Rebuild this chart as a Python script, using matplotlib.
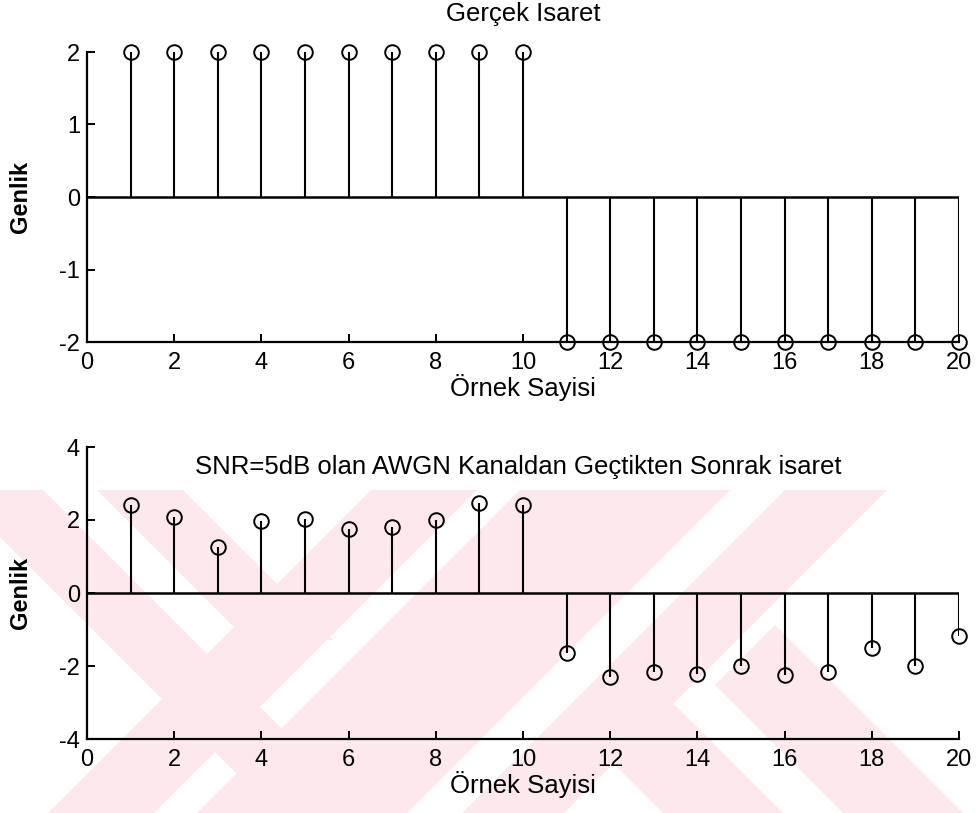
import numpy as np
import matplotlib
matplotlib.use('Agg')
import matplotlib.pyplot as plt
from matplotlib.patches import Polygon, Rectangle

# data
n = np.arange(1, 21)
gercek = [2] * 10 + [-2] * 10
gurultulu = [2.41, 2.07, 1.25, 1.98, 2.03, 1.75, 1.80, 2.00, 2.47, 2.41,
             -1.65, -2.29, -2.17, -2.22, -2.00, -2.25, -2.17, -1.52, -2.00, -1.17]
xticks = list(range(0, 21, 2))
yticks_top = [-2, -1, 0, 1, 2]
yticks_bot = [-4, -2, 0, 2, 4]

plt.rcParams['font.family'] = ['Liberation Sans', 'DejaVu Sans']
plt.rcParams['axes.unicode_minus'] = False

W, H = 976, 813
fig = plt.figure(figsize=(W / 100, H / 100), dpi=100)
fig.patch.set_facecolor('white')

# background watermark (page pixel coordinates)
bg = fig.add_axes([0, 0, 1, 1], zorder=0)
bg.set_xlim(0, W)
bg.set_ylim(H, 0)
bg.axis('off')
pink = '#fde8ed'
clip = Rectangle((0, 490), W, H - 490, transform=bg.transData, visible=False)
bg.add_patch(clip)


def back_stripe(c1, c2, ya, yb):
    # "\" stripe, x - y in [c1, c2]
    return [(c1 + ya, ya), (c2 + ya, ya), (c2 + yb, yb), (c1 + yb, yb)]


def fwd_stripe(s1, s2, ya, yb):
    # "/" stripe, x + y in [s1, s2]
    return [(s1 - ya, ya), (s2 - ya, ya), (s2 - yb, yb), (s1 - yb, yb)]


def back_from(c1, c2, s0, yb):
    # "\" stripe starting at the "/" line x + y = s0
    return [((s0 + c1) / 2, (s0 - c1) / 2), ((s0 + c2) / 2, (s0 - c2) / 2),
            (c2 + yb, yb), (c1 + yb, yb)]


stripes = [
    back_stripe(-537, -447, 490, 813),
    back_stripe(-393, -307, 490, 640),
    fwd_stripe(861, 967, 490, 813),
    fwd_stripe(1010, 1220, 490, 813),
    fwd_stripe(1275, 1377, 490, 813),
    back_from(-150, -30, 1377, 813),
    back_from(30, 150, 1400, 813),
]
for pts in stripes:
    p = Polygon(pts, closed=True, facecolor=pink, edgecolor='none')
    bg.add_patch(p)
    p.set_clip_path(clip)


def style_axes(ax, yticks):
    ax.set_facecolor('none')
    ax.set_xlim(0, 20)
    ax.set_ylim(yticks[0], yticks[-1])
    ax.set_xticks(xticks)
    ax.set_yticks(yticks)
    ax.spines['top'].set_visible(False)
    ax.spines['right'].set_visible(False)
    for s in ['left', 'bottom']:
        ax.spines[s].set_linewidth(1.6)
    ax.tick_params(direction='in', length=6, width=1.4, labelsize=17)
    ax.tick_params(axis='x', pad=7)
    ax.tick_params(axis='y', pad=5)
    ax.axhline(0, color='black', lw=1.8, zorder=2)
    ax.set_ylabel('Genlik', fontsize=17, fontweight='bold')
    ax.yaxis.label.set_va('center')
    ax.yaxis.set_label_coords(-0.076, 0.5)
    ax.set_xlabel('Örnek Sayisi', fontsize=18.5)
    ax.xaxis.label.set_va('center')
    ax.xaxis.set_label_coords(0.5, -0.157)


def draw_stem(ax, y):
    ml, sl, bl = ax.stem(n, y, linefmt='k-', markerfmt='o', basefmt=' ')
    plt.setp(sl, linewidth=1.5, color='black')
    plt.setp(ml, markersize=10.5, markerfacecolor='none', markeredgecolor='black',
             markeredgewidth=1.4, clip_on=False)


ax1 = fig.add_axes([87 / W, 1 - 342 / H, 872 / W, 290 / H], zorder=1)
draw_stem(ax1, gercek)
style_axes(ax1, yticks_top)
ax1.text(0.5, 1.13, 'Gerçek Isaret', transform=ax1.transAxes,
         ha='center', va='center', fontsize=18.5)

ax2 = fig.add_axes([87 / W, 1 - 739 / H, 872 / W, 292 / H], zorder=1)
draw_stem(ax2, gurultulu)
style_axes(ax2, yticks_bot)
ax2.text(0.494, 0.932, 'SNR=5dB olan AWGN Kanaldan Geçtikten Sonrak isaret',
         transform=ax2.transAxes, ha='center', va='center', fontsize=18.5)

fig.savefig('out.png', dpi=100)
